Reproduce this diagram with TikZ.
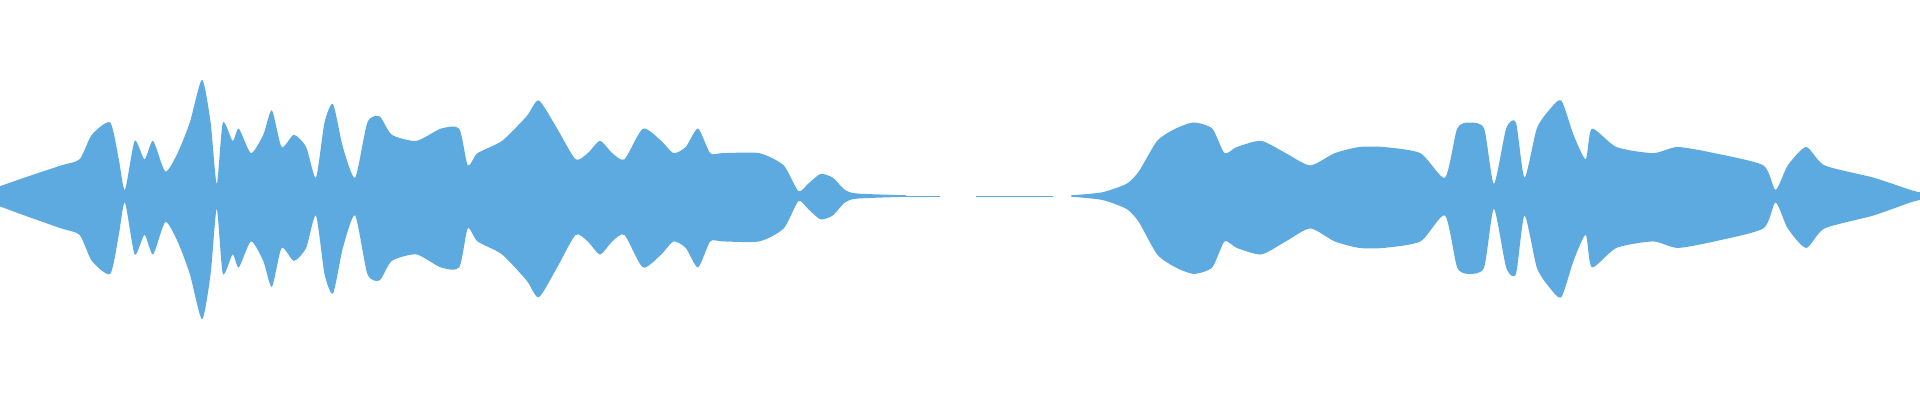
\documentclass[tikz,border=0pt]{standalone}
\definecolor{wave}{HTML}{5DAAE0}
\begin{document}
\begin{tikzpicture}[x=1pt,y=1pt]
\useasboundingbox (0,0) rectangle (1920,400);
\def\env{(0,8) (20,15) (50,25) (65,30) (75,50) (90,60) (97,30) (102,5) (110,45) (118,30) (125,45) (135,20) (145,35) (155,60) (165,95) (172,60) (177,10) (182,60) (190,45) (195,55) (205,35) (215,50) (222,70) (230,40) (240,50) (250,40) (258,15) (265,60) (272,75) (280,40) (290,15) (300,60) (310,65) (320,50) (340,45) (360,55) (375,55) (382,25) (390,35) (410,45) (430,65) (440,78) (455,55) (470,30) (480,35) (490,45) (500,35) (510,30) (525,55) (540,45) (550,35) (560,40) (570,55) (580,35) (590,35) (620,35) (640,25) (652,4) (660,10) (670,18) (680,15) (690,5) (700,2) (740,0.6)}
\def\envb{(875,0.6) (900,3) (920,10) (930,20) (945,45) (960,55) (975,60) (990,55) (1000,35) (1010,40) (1030,45) (1050,35) (1070,25) (1090,35) (1110,40) (1130,40) (1160,35) (1180,15) (1190,55) (1200,60) (1212,55) (1220,10) (1230,55) (1238,60) (1245,15) (1255,55) (1265,70) (1275,78) (1285,50) (1295,30) (1300,55) (1320,40) (1350,35) (1370,40) (1400,35) (1440,25) (1450,5) (1460,25) (1475,40) (1490,25) (1530,15) (1560,5) (1568,3)}
\begin{scope}[shift={(0,204)},scale=1.2245]
\foreach \s in {1,-1.06}{
\begin{scope}[yscale=\s]
\fill[wave] (0,0) -- plot[smooth,tension=0.4] coordinates {\env} -- (740,0) -- cycle;
\fill[wave] (875,0) -- plot[smooth,tension=0.4] coordinates {\envb} -- (1568,0) -- cycle;
\end{scope}}
\draw[wave,line width=0.6pt] (740,0) -- (768,0) (797,0) -- (860,0);
\end{scope}
\end{tikzpicture}
\end{document}
